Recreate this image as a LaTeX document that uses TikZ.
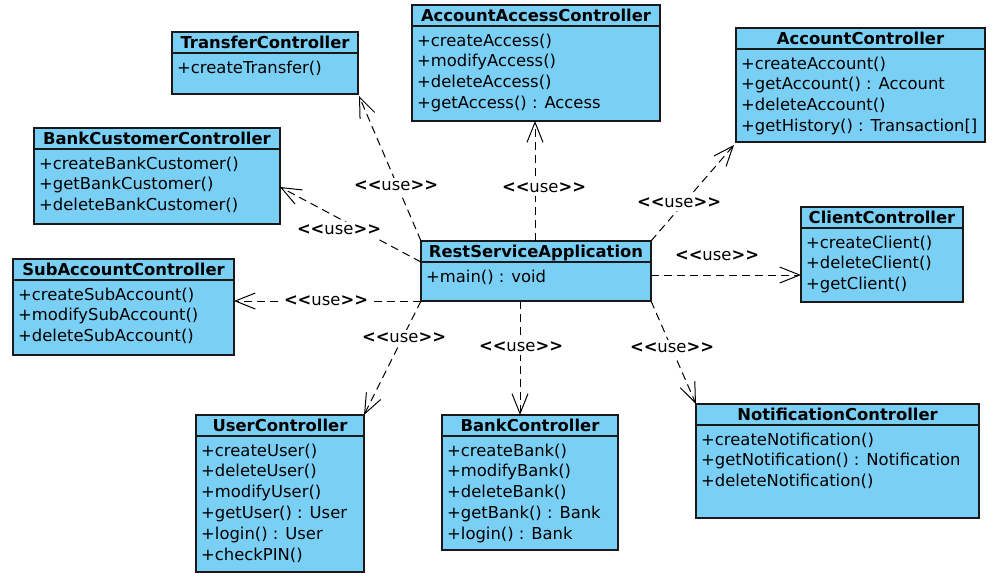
\documentclass[tikz,border=0pt]{standalone}
\usepackage{fontspec}
\setmainfont{DejaVu Sans}
\usetikzlibrary{arrows.meta}
\definecolor{clsfill}{RGB}{122,207,245}
\definecolor{clsdraw}{RGB}{25,25,25}
\newcommand{\fsz}{\fontsize{16.4}{19}\selectfont}
\tikzset{
  cls/.style={draw=clsdraw, fill=clsfill, line width=1.6pt, inner sep=0pt, outer sep=0pt},
  clsline/.style={draw=clsdraw, line width=1.4pt},
  ttl/.style={font={\fsz\bfseries}, inner sep=0pt},
  row/.style={font=\fsz, inner sep=0pt},
  dep/.style={draw=black, line width=1pt, dash pattern=on 8pt off 5pt,
              -{Straight Barb[length=20pt, width=16pt, line width=1pt]}},
  lbl/.style={font=\fsz, fill=white, inner sep=1.5pt, text height=11pt, text depth=2pt}
}
\newcommand{\umlbox}[7]{%
  \node[cls, minimum width=#4pt, minimum height=#5pt, anchor=north west] (#1) at (#2,#3) {};
  \draw[clsline] ([yshift=-21pt]#1.north west) -- ([yshift=-21pt]#1.north east);
  \node[ttl, anchor=base] (#1-t) at ([yshift=-16.5pt]#1.north) {#6};
  \foreach \r [count=\i] in {#7} {
    \node[row, anchor=base west] (#1-\i) at ([xshift=5pt, yshift={-41pt-(\i-1)*20.8pt}]#1.north west) {\r};
  }%
}
\newcommand{\use}{\textbf{<{}<}use\textbf{>{}>}}
\begin{document}
\begin{tikzpicture}[x=1pt, y=-1pt, font=\fsz]
\useasboundingbox (0,0) rectangle (996,581);

\umlbox{tc}{172}{32}{186}{62}{TransferController}{{+createTransfer()}}
\umlbox{aac}{412}{5}{248}{116}{AccountAccessController}{{+createAccess()},{+modifyAccess()},{+deleteAccess()},{+getAccess() : Access}}
\umlbox{ac}{736}{28}{249}{114}{AccountController}{{+createAccount()},{+getAccount() : Account},{+deleteAccount()},{+getHistory() : Transaction[]}}
\umlbox{bcc}{34}{128}{246}{96}{BankCustomerController}{{+createBankCustomer()},{+getBankCustomer()},{+deleteBankCustomer()}}
\umlbox{cc}{801}{207}{162}{95}{ClientController}{{+createClient()},{+deleteClient()},{+getClient()}}
\umlbox{sac}{13}{259}{221}{96}{SubAccountController}{{+createSubAccount()},{+modifySubAccount()},{+deleteSubAccount()}}
\umlbox{rsa}{421}{241}{230}{60}{RestServiceApplication}{{+main() : void}}
\umlbox{uc}{196}{415}{168}{157}{UserController}{{+createUser()},{+deleteUser()},{+modifyUser()},{+getUser() : User},{+login() : User},{+checkPIN()}}
\umlbox{bc}{442}{415}{176}{135}{BankController}{{+createBank()},{+modifyBank()},{+deleteBank()},{+getBank() : Bank},{+login() : Bank}}
\umlbox{nc}{696}{404}{283}{114}{NotificationController}{{+createNotification()},{+getNotification() : Notification},{+deleteNotification()}}

% dependencies
\draw[dep] (rsa.north west) -- ([xshift=1pt,yshift=-2pt]tc.south east);
\draw[dep] ([xshift=-1pt]rsa.north) -- ([xshift=-1pt]rsa.north |- aac.south);
\draw[dep] (rsa.north east) -- ([xshift=-2pt,yshift=-3pt]ac.south west);
\draw[dep] ([yshift=-4pt]rsa.east) -- ([yshift=-4pt]rsa.east -| cc.west);
\draw[dep] (rsa.south east) -- (nc.north west);
\draw[dep] ([xshift=-16pt]rsa.south) -- ([xshift=-16pt]rsa.south |- bc.north);
\draw[dep] (rsa.south west) -- (uc.north east);
\draw[dep] (rsa.south west) -- (rsa.south west -| sac.east);
\draw[dep] ([yshift=-21pt]rsa.north west) -- ([yshift=-11pt]bcc.east);

% labels
\node[lbl] (l1) at (396,186) {\use};
\node[lbl] (l2) at (544,188) {\use};
\node[lbl] (l3) at (679,203) {\use};
\node[lbl] (l4) at (717,256) {\use};
\node[lbl] (l5) at (672,348) {\use};
\node[lbl] (l6) at (521,347) {\use};
\node[lbl] (l7) at (404,338) {\use};
\node[lbl] (l8) at (326,301) {\use};
\node[lbl] (l9) at (339,230) {\use};
\end{tikzpicture}
\end{document}
